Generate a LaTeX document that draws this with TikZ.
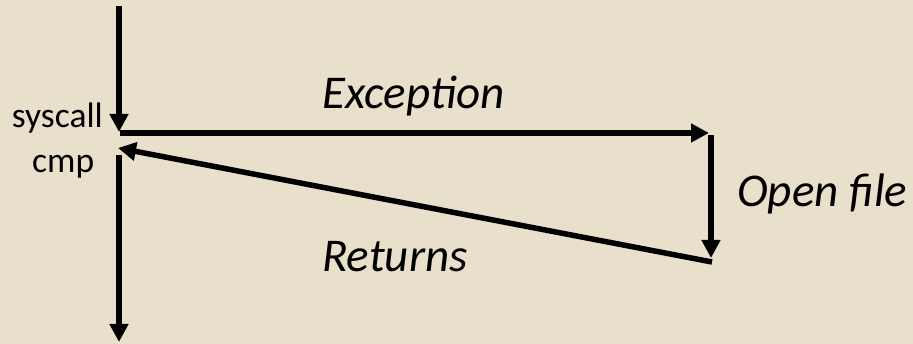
\documentclass[tikz,border=0pt]{standalone}
\usepackage{fontspec}
\setmainfont{Carlito}
\usetikzlibrary{arrows.meta}
\definecolor{bg}{RGB}{232,224,203}
\tikzset{
  flow/.style={line width=5.5pt, -{Triangle[width=18pt,length=18pt]}},
  lbl/.style={font=\fontsize{47}{56}\selectfont\itshape, inner sep=0pt},
  side/.style={font=\fontsize{35.5}{42}\selectfont, inner sep=0pt}
}
\begin{document}
\begin{tikzpicture}[x=1pt,y=-1pt]
\fill[bg] (0,0) rectangle (913,344);
\useasboundingbox (0,0) rectangle (913,344);
\coordinate (top) at (119,6);
\coordinate (sysin) at (119,132);
\coordinate (sysout) at (120,133);
\coordinate (exc) at (709,133);
\coordinate (hstart) at (711,135);
\coordinate (hend) at (711,258);
\coordinate (rstart) at (712,262);
\coordinate (rend) at (118,148);
\coordinate (cstart) at (119,155);
\coordinate (cend) at (119,342);
\draw[flow] (top) -- (sysin);
\draw[flow] (sysout) -- (exc);
\draw[flow] (hstart) -- (hend);
\draw[flow] (rstart) -- (rend);
\draw[flow] (cstart) -- (cend);
\node[lbl, anchor=base west] (exception) at (322,109) {Exception};
\node[lbl, anchor=base west] (returns) at (322,272) {Returns};
\node[lbl, anchor=base west] (openfile) at (737,207) {Open file};
\node[side, anchor=base east] (syscall) at (103,128) {syscall};
\node[side, anchor=base west] (cmp) at (32,173) {cmp};
\end{tikzpicture}
\end{document}
